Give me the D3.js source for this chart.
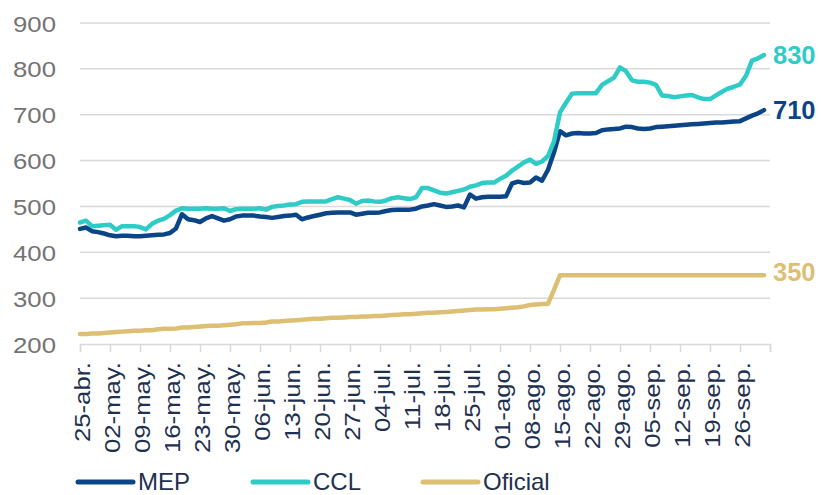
<!DOCTYPE html>
<html>
<head>
<meta charset="utf-8">
<script src="https://cdn.jsdelivr.net/npm/d3@7/dist/d3.min.js"></script>
<style>
  html, body { margin: 0; padding: 0; background: #ffffff; }
  svg { display: block; font-family: Arial, "Liberation Sans", sans-serif; }
</style>
</head>
<body>
<svg id="chart" width="821" height="495"></svg>
<script>
// Weekly tick labels (every 5th business day, starting 25-abr.)
const tickLabels = ["25-abr.", "02-may.", "09-may.", "16-may.", "23-may.", "30-may.",
  "06-jun.", "13-jun.", "20-jun.", "27-jun.", "04-jul.", "11-jul.", "18-jul.", "25-jul.",
  "01-ago.", "08-ago.", "15-ago.", "22-ago.", "29-ago.", "05-sep.", "12-sep.", "19-sep.", "26-sep."];

const yTicks = [200, 300, 400, 500, 600, 700, 800, 900];

// Daily quotes (business days) in pesos per dollar
const mep = [451, 454, 446, 444, 441, 437, 435, 436, 436, 435,
  435, 436, 437, 438, 439, 442, 452, 483, 472, 470,
  466, 474, 479, 474, 469, 472, 478, 480, 480, 480,
  478, 477, 475, 477, 479, 480, 482, 472, 476, 479,
  482, 485, 486, 487, 487, 487, 482, 484, 486, 486,
  487, 490, 492, 493, 493, 493, 495, 500, 502, 505,
  502, 499, 500, 502, 498, 526, 517, 520, 521, 521,
  521, 522, 550, 554, 551, 552, 563, 556, 580, 618,
  664, 655, 659, 660, 659, 659, 660, 666, 668, 669,
  670, 674, 673, 670, 669, 670, 673, 674, 675, 676,
  677, 678, 679, 680, 681, 682, 683, 683, 684, 685,
  686, 692, 698, 703, 710];

const ccl = [465, 469, 457, 458, 459, 460, 449, 457, 457, 457,
  455, 450, 462, 469, 473, 481, 491, 496, 495, 495,
  495, 496, 495, 495, 496, 490, 494, 495, 495, 495,
  496, 493, 499, 501, 502, 504, 505, 510, 511, 511,
  511, 511, 516, 520, 517, 514, 506, 512, 513, 511,
  510, 513, 518, 520, 518, 516, 520, 540, 540, 535,
  530, 528, 531, 534, 537, 543, 546, 551, 552, 552,
  560, 567, 578, 587, 596, 602, 593, 598, 610, 642,
  705, 726, 746, 747, 747, 747, 747, 765, 773, 781,
  803, 795, 775, 772, 772, 770, 765, 742, 741, 738,
  740, 742, 743, 738, 734, 734, 742, 750, 757, 761,
  766, 785, 818, 823, 830];

const oficial = [222, 222, 223, 223, 224, 225, 226, 227, 228, 229,
  229, 230, 230, 232, 233, 233, 234, 236, 236, 237,
  238, 239, 240, 240, 241, 242, 243, 245, 245, 246,
  246, 247, 249, 249, 250, 251, 252, 253, 254, 255,
  255, 256, 257, 257, 258, 259, 259, 260, 260, 261,
  261, 262, 263, 264, 265, 265, 266, 267, 268, 268,
  269, 270, 271, 272, 273, 274, 275, 275, 276, 276,
  277, 278, 279, 280, 282, 285, 286, 287, 288, 318,
  350, 350, 350, 350, 350, 350, 350, 350, 350, 350,
  350, 350, 350, 350, 350, 350, 350, 350, 350, 350,
  350, 350, 350, 350, 350, 350, 350, 350, 350, 350,
  350, 350, 350, 350, 350];

const seriesNames = ["MEP", "CCL", "Oficial"];
const seriesColors = ["#0b4587", "#2fcbc7", "#dcbf72"];
const seriesData = [mep, ccl, oficial];

const svg = d3.select("#chart");
const textColor = "#1e3150";
const gridColor = "#d9d9d9";

const x = d3.scaleLinear().domain([0, 115]).range([80, 770]);
const y = d3.scaleLinear().domain([200, 900]).range([344, 23]);

// Horizontal gridlines
svg.append("g")
  .selectAll("line")
  .data(yTicks.filter(v => v > 200))
  .join("line")
  .attr("x1", x(0)).attr("x2", x(115))
  .attr("y1", d => y(d)).attr("y2", d => y(d))
  .attr("stroke", gridColor).attr("stroke-width", 1.5);

// Y-axis labels
svg.append("g")
  .selectAll("text")
  .data(yTicks)
  .join("text")
  .attr("transform", d => `translate(56,${y(d) + 8.5}) scale(1.12,1)`)
  .attr("text-anchor", "end")
  .attr("font-size", 23)
  .attr("fill", "#737373")
  .text(d => d);

// X axis: baseline and weekly ticks
const tickIdx = d3.range(0, 116, 5);
const xAxis = d3.axisBottom(x)
  .tickValues(tickIdx)
  .tickSize(8)
  .tickFormat("");
const gx = svg.append("g").attr("transform", `translate(0,${y(200)})`).call(xAxis);
gx.select(".domain").attr("stroke", gridColor).attr("stroke-width", 1.5);
gx.selectAll(".tick line").attr("stroke", gridColor).attr("stroke-width", 1.5);

// Rotated date labels
svg.append("g")
  .selectAll("text")
  .data(tickLabels)
  .join("text")
  .attr("transform", (d, i) => `translate(${x(i * 5) + 9.5},362) rotate(-90) scale(1.17,1)`)
  .attr("text-anchor", "end")
  .attr("font-size", 22)
  .attr("fill", textColor)
  .text(d => d);

// Series lines
const line = d3.line()
  .x((d, i) => x(i))
  .y(d => y(d));

svg.append("g")
  .selectAll("path")
  .data(seriesData)
  .join("path")
  .attr("d", d => line(d))
  .attr("fill", "none")
  .attr("stroke", (d, i) => seriesColors[i])
  .attr("stroke-width", 4.5)
  .attr("stroke-linejoin", "round")
  .attr("stroke-linecap", "round");

// End-of-series value labels
const lastIdx = mep.length - 1;
svg.append("g")
  .selectAll("text")
  .data(seriesData)
  .join("text")
  .attr("x", 773)
  .attr("y", (d, i) => y(d[lastIdx]) + (i === 2 ? 6 : 9))
  .attr("font-size", 25.5)
  .attr("font-weight", "bold")
  .attr("fill", (d, i) => seriesColors[i])
  .text(d => d[lastIdx]);

// Legend
const legendX = [78, 253, 423];
const legend = svg.append("g")
  .selectAll("g")
  .data(seriesNames)
  .join("g")
  .attr("transform", (d, i) => `translate(${legendX[i]},482)`);
legend.append("line")
  .attr("x1", 0).attr("x2", 55)
  .attr("y1", 0).attr("y2", 0)
  .attr("stroke", (d, i) => seriesColors[i])
  .attr("stroke-width", 5)
  .attr("stroke-linecap", "round");
legend.append("text")
  .attr("x", 60)
  .attr("y", 8)
  .attr("font-size", 24)
  .attr("fill", textColor)
  .text(d => d);
</script>
</body>
</html>
